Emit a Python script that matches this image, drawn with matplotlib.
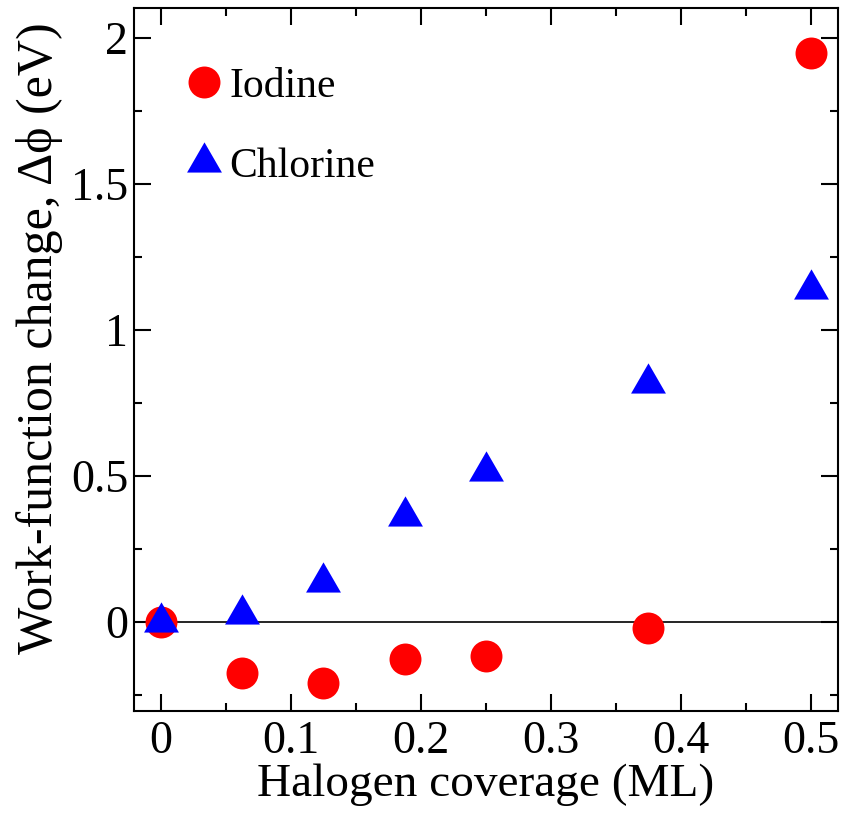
import matplotlib.pyplot as plt
import numpy as np
from matplotlib.ticker import MultipleLocator

# coverage (ML) et variation du travail de sortie (eV)
coverage = [0.0, 0.0625, 0.125, 0.1875, 0.25, 0.375, 0.5]
iodine = [0.0, -0.175, -0.21, -0.127, -0.116, -0.02, 1.95]
chlorine = [0.0, 0.027, 0.136, 0.363, 0.517, 0.818, 1.14]

plt.rcParams['font.family'] = ['Liberation Serif', 'DejaVu Serif']

# triangle centre sur son barycentre
h = np.sqrt(3) / 2
tri = [(0, 2 * h / 3), (-0.5, -h / 3), (0.5, -h / 3), (0, 2 * h / 3)]

fig = plt.figure(figsize=(8.46, 8.19), dpi=100)
ax = fig.add_axes([0.158, 0.132, 0.8325, 0.858])

ax.axhline(0, color='black', lw=1.2, zorder=1)
ax.plot(coverage, iodine, 'o', color='red', ms=23, mec='none',
        label='Iodine', zorder=3)
ax.plot(coverage, chlorine, ls='none', marker=tri, color='blue', ms=29,
        mec='none', label='Chlorine', zorder=3)

ax.set_xlim(-0.021, 0.521)
ax.set_ylim(-0.305, 2.103)
ax.xaxis.set_minor_locator(MultipleLocator(0.05))
ax.yaxis.set_minor_locator(MultipleLocator(0.25))
ax.set_xticks([0, 0.1, 0.2, 0.3, 0.4, 0.5])
ax.set_xticklabels(['0', '0.1', '0.2', '0.3', '0.4', '0.5'])
ax.set_yticks([0, 0.5, 1, 1.5, 2])
ax.set_yticklabels(['0', '0.5', '1', '1.5', '2'])

ax.tick_params(which='both', direction='in', top=True, right=True,
               width=1.5, labelsize=33)
ax.tick_params(axis='x', pad=7)
ax.tick_params(axis='y', pad=4)
ax.tick_params(which='major', length=12)
ax.tick_params(which='minor', length=6)
for s in ax.spines.values():
    s.set_linewidth(1.5)

ax.set_xlabel('Halogen coverage (ML)', fontsize=34, labelpad=0)
ax.set_ylabel('Work-function change, Δϕ (eV)', fontsize=36, labelpad=6)
ax.yaxis.label.set_y(0.53)

ax.legend(loc='upper left', bbox_to_anchor=(0.041, 0.94), borderaxespad=0,
          frameon=False, fontsize=30, handletextpad=0.0, labelspacing=1.0,
          handlelength=1.2)

fig.savefig('out.png', dpi=100)
